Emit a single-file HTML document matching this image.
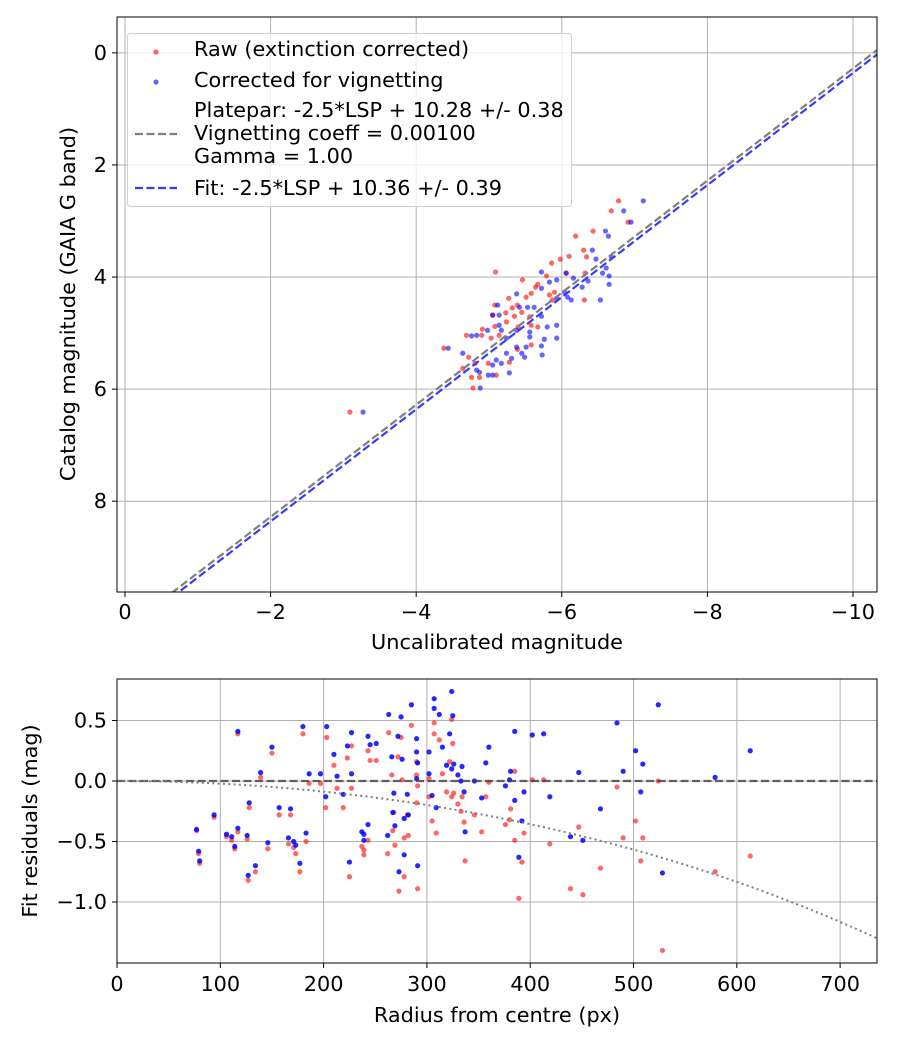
<!DOCTYPE html>
<html><head><meta charset="utf-8"><style>
html,body{margin:0;padding:0;background:#fff;}
svg{display:block;font-family:"DejaVu Sans","Liberation Sans",sans-serif;}
</style></head><body>
<svg id="fig" width="900" height="1050" viewBox="0 0 900 1050" xmlns="http://www.w3.org/2000/svg">
<rect width="900" height="1050" fill="#fff"/>
<g id="topPlot"></g>
<g id="botPlot"></g>
</svg>
<script>
// ---- Top chart data ----
const rawX=[-6.78,-6.68,-6.91,-6.43,-6.19,-6.30,-6.10,-6.34,-5.86,-5.98,-5.09,-5.46,-6.06,-6.32,-5.79,-5.67,-5.64,-5.58,-5.27,-5.51,-5.83,-5.90,-6.31,-5.32,-5.39,-5.08,-5.23,-5.35,-5.56,-5.45,-5.05,-5.24,-5.08,-4.91,-5.03,-4.69,-4.90,-5.14,-5.40,-5.67,-4.38,-5.58,-5.39,-4.72,-4.81,-4.99,-5.28,-4.64,-4.76,-4.87,-5.10,-4.78,-5.58,-5.87,-3.09];
const rawY=[2.64,2.82,3.02,3.18,3.27,3.52,3.63,3.64,3.75,3.68,3.91,4.05,3.93,3.93,3.98,4.13,4.18,4.29,4.38,4.36,4.32,4.27,4.41,4.55,4.50,4.50,4.64,4.70,4.71,4.63,4.68,4.80,4.88,4.93,5.09,5.04,5.04,5.04,4.89,4.89,5.27,5.21,5.29,5.43,5.54,5.54,5.52,5.63,5.79,5.79,5.75,5.98,4.86,4.41,6.41];
const corX=[-7.12,-6.85,-6.95,-6.60,-6.64,-6.42,-6.47,-6.68,-6.61,-6.56,-6.65,-6.65,-6.53,-5.72,-6.06,-5.93,-5.83,-6.36,-6.28,-6.16,-6.04,-6.08,-6.13,-5.93,-5.72,-5.38,-5.53,-5.62,-5.42,-5.12,-5.05,-5.72,-5.80,-5.93,-5.93,-5.76,-5.72,-5.73,-5.51,-5.56,-5.56,-5.38,-5.14,-5.17,-4.98,-4.76,-4.83,-5.24,-5.38,-5.45,-5.49,-5.24,-5.31,-5.10,-5.17,-5.05,-4.83,-4.87,-4.99,-5.05,-5.28,-4.64,-4.44,-4.88,-5.14,-3.27];
const corY=[2.64,2.82,3.02,3.18,3.27,3.52,3.68,3.64,3.84,3.93,3.98,4.13,4.41,3.91,3.93,4.05,4.09,4.07,4.18,4.02,4.27,4.36,4.41,4.38,4.20,4.30,4.54,4.54,4.54,4.50,4.68,4.70,4.89,4.86,5.09,5.11,5.23,5.39,5.25,5.07,4.98,4.95,4.86,4.95,4.95,5.05,5.04,5.09,5.25,5.36,5.43,5.36,5.45,5.48,5.54,5.57,5.66,5.70,5.75,5.75,5.71,5.36,5.27,5.98,4.68,6.41];
const xTicksTop=[0,-2,-4,-6,-8,-10];
const yTicksTop=[0,2,4,6,8];
const plateparOffset=10.28;
const fitOffset=10.36;
// ---- Bottom chart data ----
const radius=[77,79,80,94,117,139,150,128,106,111,114,117,126,127,134,146,157,168,166,171,173,177,183,180,186,197,203,202,210,213,219,223,227,227,225,243,245,251,243,237,239,239,263,262,266,267,269,268,272,273,275,276,278,278,281,282,285,290,290,291,291,290,307,307,312,324,325,322,315,302,302,305,309,319,324,326,334,330,333,336,337,346,353,357,360,380,376,381,385,385,389,392,394,402,413,419,439,447,451,468,484,490,502,507,509,524,528,579,613];
const corrRes=[-0.40,-0.58,-0.66,-0.28,0.41,0.07,0.28,-0.18,-0.44,-0.46,-0.54,-0.39,-0.45,-0.78,-0.70,-0.51,-0.22,-0.23,-0.47,-0.50,-0.53,-0.68,-0.43,0.45,0.06,0.06,0.45,-0.13,0.22,0.04,-0.11,0.29,0.40,0.06,-0.67,0.37,0.30,0.31,-0.36,-0.42,-0.44,-0.49,0.55,-0.45,0.20,-0.26,-0.37,-0.10,0.37,-0.75,0.53,0.18,-0.31,-0.61,-0.11,-0.28,0.63,0.35,0.24,0.15,-0.70,0.02,0.68,0.60,0.55,0.74,0.54,0.39,0.28,0.24,0.06,-0.12,-0.22,0.13,0.10,0.14,0.12,0.05,0.00,-0.09,-0.42,0.00,-0.14,0.15,0.28,0.01,-0.04,0.08,-0.16,0.41,-0.63,-0.33,-0.09,0.38,0.39,-0.13,-0.46,0.07,-0.49,-0.23,0.48,0.08,0.25,-0.09,0.14,0.63,-0.76,0.03,0.25];
const rawRes=[-0.41,-0.60,-0.68,-0.30,0.39,0.03,0.23,-0.22,-0.46,-0.49,-0.56,-0.42,-0.48,-0.82,-0.75,-0.56,-0.28,-0.28,-0.52,-0.55,-0.60,-0.75,-0.50,0.39,-0.02,-0.02,0.36,-0.22,0.13,-0.06,-0.22,0.19,0.29,-0.06,-0.79,0.25,0.17,0.17,-0.49,-0.54,-0.57,-0.61,0.40,-0.60,0.05,-0.41,-0.53,-0.26,0.20,-0.91,0.36,0.01,-0.47,-0.79,-0.28,-0.45,0.46,0.16,0.05,-0.04,-0.89,-0.18,0.48,0.39,0.34,0.51,0.31,0.16,0.06,0.02,-0.13,-0.33,-0.43,-0.09,-0.13,-0.10,-0.13,-0.19,-0.25,-0.34,-0.66,-0.28,-0.42,-0.13,-0.01,-0.32,-0.36,-0.23,-0.49,0.08,-0.97,-0.67,-0.43,0.01,0.01,-0.52,-0.89,-0.38,-0.94,-0.72,-0.05,-0.47,-0.33,-0.66,-0.47,0.00,-1.40,-0.75,-0.62];
const xTicksBot=[0,100,200,300,400,500,600,700];
const yTicksBot=[0.5,0.0,-0.5,-1.0];
const vignCoeff=0.001;

const FS=20.8;
const NS="http://www.w3.org/2000/svg";
function mk(parent,tag,attrs,text){const e=document.createElementNS(NS,tag);for(const k in attrs)e.setAttribute(k,attrs[k]);if(text!==undefined)e.textContent=text;parent.appendChild(e);return e;}

// ===== TOP =====
const T={l:117,r:877,t:17,b:592,x0:0.11,x1:-10.33,y0:-0.64,y1:9.62};
const sxT=v=>T.l+(v-T.x0)/(T.x1-T.x0)*(T.r-T.l);
const syT=v=>T.t+(v-T.y0)/(T.y1-T.y0)*(T.b-T.t);
const topG=document.getElementById('topPlot');
const defs=mk(topG,'defs',{});
const cp=mk(defs,'clipPath',{id:'cpT'});mk(cp,'rect',{x:T.l,y:T.t,width:T.r-T.l,height:T.b-T.t});
const cp2=mk(defs,'clipPath',{id:'cpB'});mk(cp2,'rect',{x:117,y:679,width:760,height:284});
xTicksTop.forEach(v=>{const x=sxT(v);
 const g=mk(topG,'line',{x1:x,x2:x,y1:T.t,y2:T.b,stroke:'#b0b0b0','stroke-width':1});
 
 
 mk(topG,'line',{x1:x,x2:x,y1:T.b,y2:T.b+5,stroke:'#000'});
 const t=mk(topG,'text',{x:x,y:T.b+27,'font-size':FS,'text-anchor':'middle'},v===0?'0':'\u2212'+Math.abs(v));
 
 });
yTicksTop.forEach(v=>{const y=syT(v);
 const g=mk(topG,'line',{x1:T.l,x2:T.r,y1:y,y2:y,stroke:'#b0b0b0','stroke-width':1});
 
 
 mk(topG,'line',{x1:T.l-5,x2:T.l,y1:y,y2:y,stroke:'#000'});
 const t=mk(topG,'text',{x:T.l-10,y:y+7,'font-size':FS,'text-anchor':'end'},String(v));
 
 });
const ptsT=mk(topG,'g',{'clip-path':'url(#cpT)'});
rawX.forEach((v,i)=>{const c=mk(ptsT,'circle',{cx:sxT(v),cy:syT(rawY[i]),r:2.6,fill:'#ff0000','fill-opacity':0.6});
 
 });
corX.forEach((v,i)=>{const c=mk(ptsT,'circle',{cx:sxT(v),cy:syT(corY[i]),r:2.6,fill:'#0000ff','fill-opacity':0.6});
 
 });
function fitLine(off,color,name){const xa=T.x0,xb=T.x1;
 const l=mk(ptsT,'line',{x1:sxT(xa),y1:syT(xa+off),x2:sxT(xb),y2:syT(xb+off),stroke:color,'stroke-width':2.2,'stroke-dasharray':'8,3.5'});
 
 }
fitLine(plateparOffset,'#7f7f7f','platepar-line');
fitLine(fitOffset,'#3a3aff','fit-line');
const fr=mk(topG,'rect',{x:T.l,y:T.t,width:T.r-T.l,height:T.b-T.t,fill:'none',stroke:'#000','stroke-width':1});


const xl=mk(topG,'text',{x:497,y:649,'font-size':FS,'text-anchor':'middle'},'Uncalibrated magnitude');


const yl=mk(topG,'text',{x:0,y:0,'font-size':FS,'text-anchor':'middle',transform:'translate(75,304) rotate(-90)'},'Catalog magnitude (GAIA G band)');


// legend
const lg=mk(topG,'g',{});


mk(lg,'rect',{x:127.5,y:33.5,width:444,height:173,rx:3,fill:'#fff','fill-opacity':0.8,stroke:'#d0d0d0'});
mk(lg,'circle',{cx:156,cy:52,r:2.6,fill:'#ff0000','fill-opacity':0.6});
mk(lg,'circle',{cx:156,cy:82,r:2.6,fill:'#0000ff','fill-opacity':0.6});
mk(lg,'line',{x1:135,x2:177,y1:134,y2:134,stroke:'#7f7f7f','stroke-width':2.2,'stroke-dasharray':'8,3.5'});
mk(lg,'line',{x1:135,x2:177,y1:188,y2:188,stroke:'#3a3aff','stroke-width':2.2,'stroke-dasharray':'8,3.5'});
[['Raw (extinction corrected)',56,'legend-raw'],['Corrected for vignetting',87,'legend-corrected'],['Platepar: -2.5*LSP + 10.28 +/- 0.38',117,'legend-platepar'],['Vignetting coeff = 0.00100',140,'legend-vignetting'],['Gamma = 1.00',163,'legend-gamma'],['Fit: -2.5*LSP + 10.36 +/- 0.39',195,'legend-fit']].forEach(a=>{
 const t=mk(lg,'text',{x:194,y:a[1],'font-size':FS},a[0]);
 
 });

// ===== BOTTOM =====
const B={l:117,r:877,t:679,b:963,x0:0,x1:735.7,y0:0.843,y1:-1.504};
const sxB=v=>B.l+(v-B.x0)/(B.x1-B.x0)*(B.r-B.l);
const syB=v=>B.t+(v-B.y0)/(B.y1-B.y0)*(B.b-B.t);
const botG=document.getElementById('botPlot');
xTicksBot.forEach(v=>{const x=sxB(v);
 const g=mk(botG,'line',{x1:x,x2:x,y1:B.t,y2:B.b,stroke:'#b0b0b0','stroke-width':1});
 
 
 mk(botG,'line',{x1:x,x2:x,y1:B.b,y2:B.b+5,stroke:'#000'});
 const t=mk(botG,'text',{x:x,y:B.b+28,'font-size':FS,'text-anchor':'middle'},String(v));
 
 });
yTicksBot.forEach(v=>{const y=syB(v);
 const g=mk(botG,'line',{x1:B.l,x2:B.r,y1:y,y2:y,stroke:'#b0b0b0','stroke-width':1});
 
 
 mk(botG,'line',{x1:B.l-5,x2:B.l,y1:y,y2:y,stroke:'#000'});
 const s=(v<0?'\u2212':'')+Math.abs(v).toFixed(1);
 const t=mk(botG,'text',{x:B.l-10,y:y+7,'font-size':FS,'text-anchor':'end'},s);
 
 });
const ptsB=mk(botG,'g',{'clip-path':'url(#cpB)'});
radius.forEach((r,i)=>{const c=mk(ptsB,'circle',{cx:sxB(r),cy:syB(rawRes[i]),r:2.6,fill:'#ff0000','fill-opacity':0.6});
 
 });
radius.forEach((r,i)=>{const c=mk(ptsB,'circle',{cx:sxB(r),cy:syB(corrRes[i]),r:2.6,fill:'#0000ff','fill-opacity':0.85});
 
 });
const zl=mk(ptsB,'line',{x1:B.l,x2:B.r,y1:syB(0),y2:syB(0),stroke:'#404040','stroke-opacity':0.8,'stroke-width':2.2,'stroke-dasharray':'8,3.5'});


let pathD='';for(let r=0;r<=736;r+=4){const v=2.5*Math.log10(Math.pow(Math.cos(r*vignCoeff),4));pathD+=(r?'L':'M')+sxB(r).toFixed(1)+','+syB(v).toFixed(1);}
const vc=mk(ptsB,'path',{d:pathD,fill:'none',stroke:'#7f7f7f','stroke-width':2,'stroke-dasharray':'2,3.3'});


const fb=mk(botG,'rect',{x:B.l,y:B.t,width:B.r-B.l,height:B.b-B.t,fill:'none',stroke:'#000','stroke-width':1});


const xl2=mk(botG,'text',{x:497,y:1022,'font-size':FS,'text-anchor':'middle'},'Radius from centre (px)');


const yl2=mk(botG,'text',{x:0,y:0,'font-size':FS,'text-anchor':'middle',transform:'translate(37,821) rotate(-90)'},'Fit residuals (mag)');


</script>
</body></html>
